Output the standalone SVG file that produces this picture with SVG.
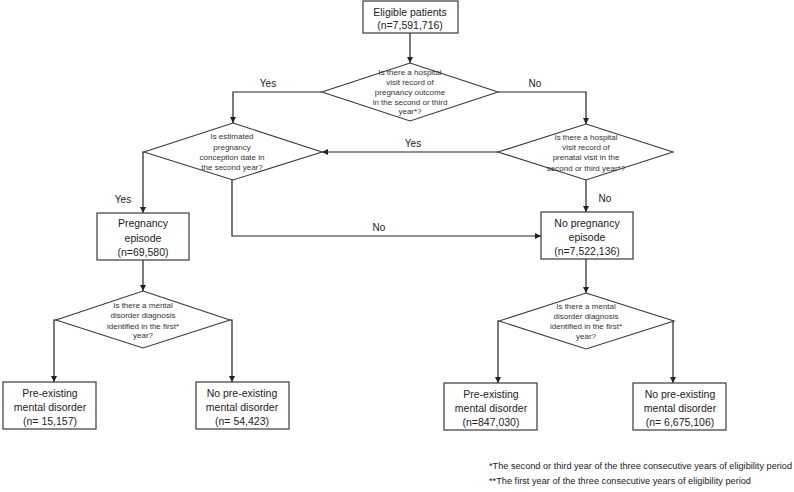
<svg xmlns="http://www.w3.org/2000/svg" width="794" height="492" viewBox="0 0 794 492">
<style>
.box{fill:#fff;stroke:#3a3a3a;stroke-width:1.2}
.dia{fill:#fff;stroke:#3a3a3a;stroke-width:1.1}
.con{fill:none;stroke:#222;stroke-width:1.2}
.bt{font-family:"Liberation Sans",Arial,sans-serif;font-size:10.5px;fill:#222;text-anchor:middle}
.dt{font-family:"Liberation Sans",Arial,sans-serif;font-size:8px;fill:#333;text-anchor:middle}
.lb{font-family:"Liberation Sans",Arial,sans-serif;font-size:10px;fill:#222;text-anchor:middle}
.fn{font-family:"Liberation Sans",Arial,sans-serif;font-size:8.3px;fill:#222}
</style>
<defs>
<marker id="ah" viewBox="0 0 10 10" refX="10" refY="5" markerWidth="6" markerHeight="6" markerUnits="userSpaceOnUse" orient="auto">
<path d="M0,0 L10,5 L0,10 z" fill="#222"/>
</marker>
</defs>
<rect width="794" height="492" fill="#fff"/>
<g id="connectors">
<path class="con" d="M410,33 V63" marker-end="url(#ah)"/>
<path class="con" d="M322,92 H233 V123" marker-end="url(#ah)"/>
<path class="con" d="M498,92 H586 V124" marker-end="url(#ah)"/>
<path class="con" d="M498,152 H322" marker-end="url(#ah)"/>
<path class="con" d="M144,152 H143 V213" marker-end="url(#ah)"/>
<path class="con" d="M232,180 V236 H541" marker-end="url(#ah)"/>
<path class="con" d="M586,180 V212" marker-end="url(#ah)"/>
<path class="con" d="M143,260 V291" marker-end="url(#ah)"/>
<path class="con" d="M586,259 V293" marker-end="url(#ah)"/>
<path class="con" d="M56,320 H54 V382" marker-end="url(#ah)"/>
<path class="con" d="M230,320 H232 V382" marker-end="url(#ah)"/>
<path class="con" d="M499,321 H498 V383" marker-end="url(#ah)"/>
<path class="con" d="M674,321 H673 V383" marker-end="url(#ah)"/>
<text class="lb" x="268" y="87">Yes</text>
<text class="lb" x="535" y="87">No</text>
<text class="lb" x="413" y="147">Yes</text>
<text class="lb" x="379" y="231">No</text>
<text class="lb" x="123" y="203">Yes</text>
<text class="lb" x="605" y="202">No</text>
</g>
<g id="eligible">
<rect class="box" x="363" y="1" width="95" height="32"/>
<text class="bt" x="410" y="16">Eligible patients</text>
<text class="bt" x="410" y="29">(n=7,591,716)</text>
</g>
<g id="q-outcome">
<polygon class="dia" points="410,63 498,92 410,121 322,92"/>
<text class="dt" x="410" y="75.2">Is there a hospital</text>
<text class="dt" x="410" y="85">visit record of</text>
<text class="dt" x="410" y="94.8">pregnancy outcome</text>
<text class="dt" x="410" y="104.6">in the second or third</text>
<text class="dt" x="410" y="114.4">year*?</text>
</g>
<g id="q-conception">
<polygon class="dia" points="233,123 322,152 233,180 144,152"/>
<text class="dt" x="232" y="139.3">Is estimated</text>
<text class="dt" x="232" y="149.6">pregnancy</text>
<text class="dt" x="232" y="160">conception date in</text>
<text class="dt" x="232" y="170.3">the second year?</text>
</g>
<g id="q-prenatal">
<polygon class="dia" points="586,124 673,152 586,180 498,152"/>
<text class="dt" x="586" y="139.5">Is there a hospital</text>
<text class="dt" x="586" y="150">visit record of</text>
<text class="dt" x="586" y="160">prenatal visit in the</text>
<text class="dt" x="586" y="170.5">second or third year*?</text>
</g>
<g id="pregnancy">
<rect class="box" x="97" y="213" width="92" height="47"/>
<text class="bt" x="143" y="227">Pregnancy</text>
<text class="bt" x="143" y="241.5">episode</text>
<text class="bt" x="143" y="256">(n=69,580)</text>
</g>
<g id="no-pregnancy">
<rect class="box" x="541" y="212" width="92" height="47"/>
<text class="bt" x="587" y="226.5">No pregnancy</text>
<text class="bt" x="587" y="240.5">episode</text>
<text class="bt" x="587" y="254.5">(n=7,522,136)</text>
</g>
<g id="q-mental-left">
<polygon class="dia" points="143,291 230,320 143,348 56,320"/>
<text class="dt" x="143" y="308">Is there a mental</text>
<text class="dt" x="143" y="318">disorder diagnosis</text>
<text class="dt" x="143" y="328.5">identified in the first*</text>
<text class="dt" x="143" y="338">year?</text>
</g>
<g id="q-mental-right">
<polygon class="dia" points="586,293 674,321 586,349 499,321"/>
<text class="dt" x="586" y="309">Is there a mental</text>
<text class="dt" x="586" y="319">disorder diagnosis</text>
<text class="dt" x="586" y="329">identified in the first*</text>
<text class="dt" x="586" y="339">year?</text>
</g>
<g id="preg-pre">
<rect class="box" x="3" y="382" width="93" height="47"/>
<text class="bt" x="50" y="397">Pre-existing</text>
<text class="bt" x="50" y="411">mental disorder</text>
<text class="bt" x="50" y="424.5">(n= 15,157)</text>
</g>
<g id="preg-nopre">
<rect class="box" x="196" y="382" width="93" height="47"/>
<text class="bt" x="242" y="397">No pre-existing</text>
<text class="bt" x="242" y="411">mental disorder</text>
<text class="bt" x="242" y="424.5">(n= 54,423)</text>
</g>
<g id="nopreg-pre">
<rect class="box" x="444" y="383" width="93" height="47"/>
<text class="bt" x="491" y="398">Pre-existing</text>
<text class="bt" x="491" y="412">mental disorder</text>
<text class="bt" x="491" y="425.5">(n=847,030)</text>
</g>
<g id="nopreg-nopre">
<rect class="box" x="633" y="383" width="93" height="47"/>
<text class="bt" x="680" y="398">No pre-existing</text>
<text class="bt" x="680" y="412">mental disorder</text>
<text class="bt" x="680" y="425.5">(n= 6,675,106)</text>
</g>
<g id="footnotes">
<text class="fn" x="489" y="469" textLength="303" lengthAdjust="spacingAndGlyphs">*The second or third year of the three consecutive years of eligibility period</text>
<text class="fn" x="489" y="484" textLength="262" lengthAdjust="spacingAndGlyphs">**The first year of the three consecutive years of eligibility period</text>
</g>
</svg>
